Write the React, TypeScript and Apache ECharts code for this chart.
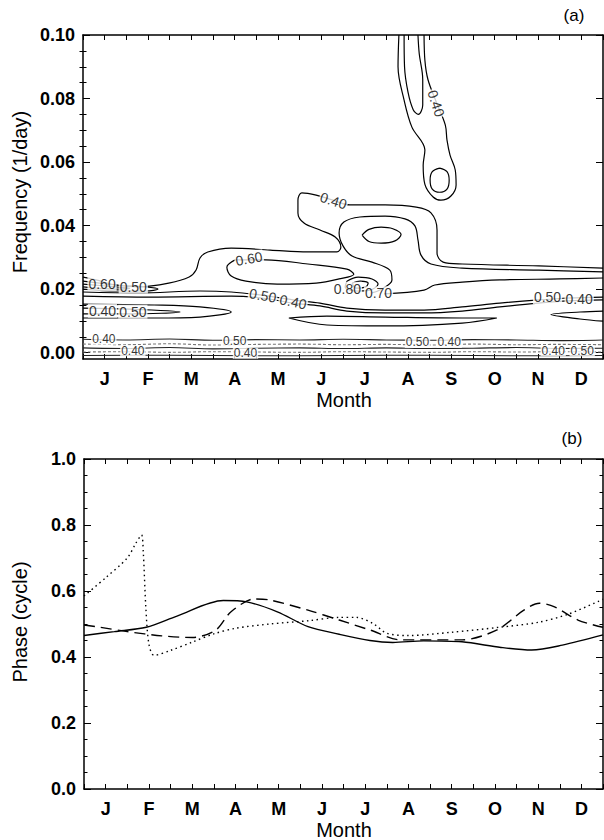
import React, { useEffect, useRef } from "react";
import * as echarts from "echarts";

// ---------- axes / ticks ----------
const months = ["J", "F", "M", "A", "M", "J", "J", "A", "S", "O", "N", "D"];
const monthLabelPos = [0.5, 1.5, 2.5, 3.5, 4.5, 5.5, 6.5, 7.5, 8.5, 9.5, 10.5, 11.5];
const monthTickPos = [0, 0.5, 1, 1.5, 2, 2.5, 3, 3.5, 4, 4.5, 5, 5.5, 6, 6.5, 7, 7.5, 8, 8.5, 9, 9.5, 10, 10.5, 11, 11.5, 12];
const freqTicks = [0, 0.02, 0.04, 0.06, 0.08, 0.1];
const freqMinorTicks = [0.005, 0.01, 0.015, 0.025, 0.03, 0.035, 0.045, 0.05, 0.055, 0.065, 0.07, 0.075, 0.085, 0.09, 0.095];
const phaseTicks = [0, 0.2, 0.4, 0.6, 0.8, 1.0];

// ---------- panel (a): contour lines [month, frequency] ----------
const tongueOuter = [[7.29, 0.1], [7.27, 0.09], [7.41, 0.0795], [7.59, 0.071], [7.89, 0.0638], [7.85, 0.059], [7.89, 0.053], [8.08, 0.049], [8.26, 0.048], [8.49, 0.0493], [8.61, 0.0528], [8.59, 0.0575], [8.47, 0.0622], [8.40, 0.0669], [8.36, 0.0717], [8.15, 0.079], [7.96, 0.086], [7.89, 0.092], [7.87, 0.1]];
const tongueInner = [[7.41, 0.1], [7.42, 0.09], [7.50, 0.082], [7.62, 0.0765], [7.74, 0.075], [7.84, 0.078], [7.84, 0.086], [7.76, 0.094], [7.73, 0.1]];
const bulbInner = [[8.23, 0.0581], [8.40, 0.057], [8.45, 0.0543], [8.40, 0.0515], [8.23, 0.0505], [8.06, 0.0515], [8.01, 0.0543], [8.06, 0.057], [8.23, 0.0581]];
const lobeOuter = [[0, 0.0238], [0.30, 0.0229], [0.76, 0.0213], [1.29, 0.0207], [1.98, 0.0219], [2.45, 0.0238], [2.61, 0.026], [2.70, 0.0298], [2.88, 0.0317], [3.42, 0.0329], [4.32, 0.0323], [5.19, 0.0317], [5.86, 0.0317], [5.95, 0.0332], [5.82, 0.0364], [5.47, 0.0386], [5.10, 0.0408], [4.96, 0.044], [4.96, 0.048], [5.05, 0.0503], [5.38, 0.0496], [5.77, 0.048], [6.16, 0.0465], [6.97, 0.0465], [7.69, 0.0458], [8.03, 0.044], [8.17, 0.0386], [8.17, 0.0314], [8.31, 0.0285], [8.75, 0.0279], [10.52, 0.0273], [12, 0.0266]];
const lobeMiddle = [[12, 0.0254], [10.52, 0.026], [8.75, 0.0266], [8.03, 0.0279], [7.80, 0.0307], [7.73, 0.0355], [7.66, 0.0399], [7.43, 0.0421], [6.97, 0.043], [6.39, 0.0427], [6.02, 0.0411], [5.91, 0.0377], [6.00, 0.0336], [6.21, 0.0304], [6.67, 0.0285], [7.08, 0.026], [7.13, 0.0229], [6.85, 0.0197], [6.67, 0.0188]];
const lobeMiddleLow = [[6.95, 0.0185], [7.87, 0.0197], [8.12, 0.0213], [8.75, 0.0222], [9.62, 0.0229], [11.0, 0.0232], [12, 0.0235]];
const lobeCore = [[6.44, 0.037], [6.6, 0.0388], [6.88, 0.0395], [7.15, 0.039], [7.34, 0.0372], [7.2, 0.0352], [6.88, 0.0345], [6.6, 0.035], [6.44, 0.037]];
const loop060 = [[3.51, 0.0292], [4.22, 0.0292], [5.19, 0.0279], [6.09, 0.0263], [6.25, 0.0247], [5.91, 0.0232], [5.38, 0.0219], [4.48, 0.0216], [3.76, 0.0225], [3.42, 0.0241], [3.32, 0.0269], [3.51, 0.0292]];
const loop070 = [[6.09, 0.0225], [6.35, 0.0238], [6.67, 0.0232], [6.81, 0.0216], [6.62, 0.0197], [6.28, 0.0194], [6.05, 0.0207], [6.09, 0.0225]];
const loop080 = [[6.21, 0.0219], [6.40, 0.0225], [6.58, 0.0219], [6.53, 0.0207], [6.30, 0.0203], [6.21, 0.0219]];
const lensLeft050 = [[0, 0.0225], [0.76, 0.0213], [1.45, 0.0207], [1.73, 0.02], [1.45, 0.0194], [0.76, 0.0194], [0, 0.02]];
const lensLeft060 = [[0, 0.0216], [0.76, 0.0207], [1.08, 0.0203], [0.76, 0.02], [0, 0.0207]];
const band050 = [[0, 0.0191], [1.29, 0.0188], [2.70, 0.0194], [3.42, 0.0191], [4.13, 0.0181], [4.85, 0.0166], [5.47, 0.0156], [6.09, 0.014], [6.97, 0.0134], [7.87, 0.0134], [8.75, 0.0144], [9.62, 0.0156], [10.52, 0.0166], [11.2, 0.0172], [12, 0.0175]];
const band040 = [[0, 0.0178], [1.55, 0.0175], [3.42, 0.0178], [4.13, 0.0172], [4.85, 0.0156], [5.47, 0.0147], [6.09, 0.0131], [6.97, 0.0125], [7.87, 0.0125], [8.75, 0.0131], [9.62, 0.0144], [10.52, 0.0156], [11.2, 0.0163], [12, 0.0166]];
const lensA = [[0, 0.0153], [1.64, 0.015], [2.70, 0.0144], [3.42, 0.0128], [2.70, 0.0112], [1.64, 0.0109], [0, 0.0109]];
const lensAInner = [[0, 0.014], [1.08, 0.0137], [2.24, 0.0128], [1.08, 0.0122], [0, 0.0122]];
const lensB = [[4.75, 0.0109], [5.63, 0.0115], [6.97, 0.0112], [8.75, 0.0109], [9.55, 0.0109], [8.75, 0.0093], [6.97, 0.0084], [5.63, 0.0087], [4.75, 0.0109]];
const lensC = [[12, 0.0131], [11.47, 0.0128], [10.80, 0.012], [11.47, 0.0106], [12, 0.0099]];
const floor1 = [[0, 0.0042], [1, 0.004], [2, 0.0043], [3, 0.0039], [4, 0.0041], [5, 0.004], [6, 0.0042], [7, 0.004], [8, 0.0039], [9, 0.0041], [10, 0.004], [11, 0.0038], [12, 0.004]];
const floor2 = [[0, 0.0027], [1, 0.0025], [2, 0.0028], [3, 0.0024], [4, 0.0026], [5, 0.0027], [6, 0.0025], [7, 0.0026], [8, 0.0024], [9, 0.0027], [10, 0.0025], [11, 0.0026], [12, 0.0025]];
const floor3 = [[0, 0.0015], [1, 0.0013], [2, 0.0016], [3, 0.0012], [4, 0.0014], [5, 0.0015], [6, 0.0013], [7, 0.0015], [8, 0.0013], [9, 0.0014], [10, 0.0016], [11, 0.0013], [12, 0.0014]];
const floor4 = [[0, 0.0002], [1, 0.0003], [2, 0.0001], [3, 0.0003], [4, 0.0002], [5, 0.0001], [6, 0.0003], [7, 0.0002], [8, 0.0001], [9, 0.0003], [10, 0.0002], [11, 0.0003], [12, 0.0002]];
const floor5 = [[0, -0.0009], [2, -0.0008], [4, -0.001], [6, -0.0009], [8, -0.0008], [10, -0.001], [12, -0.0009]];

const contourLines = [tongueOuter, tongueInner, bulbInner, lobeOuter, lobeMiddle, lobeMiddleLow, lobeCore, loop060, loop070, loop080, lensLeft050, lensLeft060, band050, band040, lensA, lensAInner, lensB, lensC];
const floorLines = [floor1, floor2, floor3, floor4, floor5];

// contour labels on the contours: text + position [month, frequency]
const labelTexts = ["0.40", "0.40", "0.60", "0.60", "0.50", "0.50", "0.40", "0.80", "0.70", "0.50", "0.40", "0.40", "0.50"];
const labelPoints = [[8.15, 0.0785], [5.78, 0.0478], [3.83, 0.0296], [0.44, 0.0216], [1.16, 0.0208], [4.15, 0.018], [4.85, 0.016], [6.1, 0.0201], [6.82, 0.0187], [10.72, 0.0174], [11.45, 0.0169], [0.45, 0.0132], [1.15, 0.0129]];
const labelRotations = [-72, -18, 10, 0, 0, -10, -12, 0, 0, 0, 0, 0, 0];
// labels inside the low-frequency band
const floorLabelTexts = ["0.40", "0.40", "0.50", "0.40", "0.50", "0.40", "0.40", "0.50"];
const floorLabelPoints = [[0.48, 0.0042], [1.15, 0.0006], [3.5, 0.0037], [3.75, -0.0002], [7.72, 0.0032], [8.45, 0.0032], [10.85, 0.0006], [11.52, 0.0006]];

// ---------- panel (b): phase [month, cycle] ----------
const phaseSolid = [[0, 0.465], [0.7, 0.477], [1.44, 0.49], [2.15, 0.524], [3.22, 0.571], [3.76, 0.567], [4.47, 0.537], [5.18, 0.492], [5.9, 0.469], [6.61, 0.45], [7.14, 0.444], [7.85, 0.449], [8.74, 0.446], [9.64, 0.429], [10.35, 0.421], [11.06, 0.436], [12, 0.467]];
const phaseDashed = [[0, 0.497], [0.37, 0.49], [1.0, 0.477], [1.8, 0.464], [2.51, 0.459], [3.05, 0.482], [3.4, 0.537], [3.94, 0.576], [4.29, 0.573], [5.18, 0.542], [5.9, 0.512], [6.61, 0.482], [7.32, 0.452], [8.74, 0.452], [9.55, 0.482], [10.17, 0.542], [10.53, 0.563], [10.88, 0.552], [11.42, 0.512], [12, 0.49]];
const phaseDotted = [[0, 0.585], [0.5, 0.64], [1.0, 0.70], [1.2, 0.745], [1.33, 0.77], [1.37, 0.72], [1.43, 0.55], [1.5, 0.44], [1.62, 0.405], [2.0, 0.42], [2.5, 0.445], [3.0, 0.47], [3.5, 0.487], [4.3, 0.50], [5.2, 0.51], [5.9, 0.52], [6.3, 0.52], [6.7, 0.50], [7.0, 0.472], [7.5, 0.465], [8.5, 0.475], [9.6, 0.49], [10.5, 0.505], [11.2, 0.53], [12, 0.575]];

const FONT = '"Liberation Sans", Arial, Helvetica, sans-serif';

export default function App() {
  const ref = useRef<HTMLDivElement>(null);
  useEffect(() => {
    if (!ref.current) return;
    const chart = echarts.init(ref.current, undefined, { renderer: "svg" });
    const black = "#000";
    const axisLine = { show: true, onZero: false, lineStyle: { color: black, width: 1.5 } };
    const tickFont = { color: black, fontSize: 18, fontWeight: "bold", fontFamily: FONT };

    const xAxisFor = (grid: number, pos: string, labels: boolean) => ({
      gridIndex: grid, type: "value", min: 0, max: 12, position: pos,
      axisLine,
      axisTick: { show: true, inside: true, length: 5, customValues: monthTickPos, lineStyle: { color: black, width: 1 } },
      axisLabel: labels
        ? { show: true, customValues: monthLabelPos, formatter: (v: number) => months[Math.floor(v)], margin: 11, ...tickFont }
        : { show: false },
      splitLine: { show: false },
    });

    const contourSeries = contourLines.map((pts) => ({
      type: "line", xAxisIndex: 0, yAxisIndex: 0, data: pts, showSymbol: false, symbol: "none",
      smooth: 0.35, silent: true, z: 2,
      lineStyle: { color: black, width: 1.2 },
    }));
    const floorSeries = floorLines.map((pts, i) => ({
      type: "line", xAxisIndex: 0, yAxisIndex: 0, data: pts, showSymbol: false, symbol: "none",
      smooth: 0.3, silent: true, z: 2,
      lineStyle: { color: i % 2 === 0 ? "#222" : "#777", width: 1.1, type: i % 2 === 0 ? "solid" : [3, 2] },
    }));
    const labelSeries = {
      type: "scatter", xAxisIndex: 0, yAxisIndex: 0, symbolSize: 1, silent: true, z: 5,
      itemStyle: { color: "rgba(0,0,0,0)" },
      data: labelPoints.map((p, i) => ({ value: p, name: labelTexts[i], label: { rotate: labelRotations[i] } })),
      label: {
        show: true, position: "inside", formatter: "{b}", color: black, fontSize: 14, fontFamily: FONT,
        backgroundColor: "#fff", padding: [0, 1],
      },
    };
    const floorLabelSeries = {
      type: "scatter", xAxisIndex: 0, yAxisIndex: 0, symbolSize: 1, silent: true, z: 5,
      itemStyle: { color: "rgba(0,0,0,0)" },
      data: floorLabelPoints.map((p, i) => ({ value: p, name: floorLabelTexts[i] })),
      label: {
        show: true, position: "inside", formatter: "{b}", color: black, fontSize: 12, fontFamily: FONT,
        backgroundColor: "#fff", padding: [0, 1], lineHeight: 11,
      },
    };

    const phaseLine = (pts: number[][], type: any) => ({
      type: "line", xAxisIndex: 2, yAxisIndex: 4, data: pts, showSymbol: false, symbol: "none",
      smooth: 0.3, silent: true,
      lineStyle: { color: black, width: 1.4, type },
    });

    const textStyle = (text: string, size: number) => ({ text, fill: black, font: `${size}px ${FONT}`, textAlign: "center", textVerticalAlign: "middle" });

    chart.setOption({
      animation: false,
      backgroundColor: "#fff",
      grid: [
        { left: 83, top: 35, width: 520, height: 324 },
        { left: 84, top: 459, width: 519, height: 330 },
      ],
      xAxis: [xAxisFor(0, "bottom", true), xAxisFor(0, "top", false), xAxisFor(1, "bottom", true), xAxisFor(1, "top", false)],
      yAxis: [
        {
          gridIndex: 0, type: "value", min: -0.002, max: 0.1, position: "left", axisLine,
          axisTick: { show: true, inside: true, length: 7, customValues: freqTicks, lineStyle: { color: black } },
          axisLabel: { show: true, customValues: freqTicks, formatter: (v: number) => v.toFixed(2), margin: 8, ...tickFont },
          splitLine: { show: false },
        },
        {
          gridIndex: 0, type: "value", min: -0.002, max: 0.1, position: "left", axisLine: { show: false },
          axisTick: { show: true, inside: true, length: 3.5, customValues: freqMinorTicks, lineStyle: { color: black } },
          axisLabel: { show: false }, splitLine: { show: false },
        },
        {
          gridIndex: 0, type: "value", min: -0.002, max: 0.1, position: "right", axisLine,
          axisTick: { show: true, inside: true, length: 7, customValues: freqTicks, lineStyle: { color: black } },
          axisLabel: { show: false }, splitLine: { show: false },
        },
        {
          gridIndex: 0, type: "value", min: -0.002, max: 0.1, position: "right", axisLine: { show: false },
          axisTick: { show: true, inside: true, length: 3.5, customValues: freqMinorTicks, lineStyle: { color: black } },
          axisLabel: { show: false }, splitLine: { show: false },
        },
        {
          gridIndex: 1, type: "value", min: 0, max: 1, interval: 0.2, position: "left", axisLine,
          axisTick: { show: true, inside: true, length: 7, lineStyle: { color: black } },
          minorTick: { show: true, splitNumber: 4, length: 3.5, lineStyle: { color: black } },
          axisLabel: { show: true, customValues: phaseTicks, formatter: (v: number) => v.toFixed(1), margin: 8, ...tickFont },
          splitLine: { show: false },
        },
        {
          gridIndex: 1, type: "value", min: 0, max: 1, interval: 0.2, position: "right", axisLine,
          axisTick: { show: true, inside: true, length: 7, lineStyle: { color: black } },
          minorTick: { show: true, splitNumber: 4, length: 3.5, lineStyle: { color: black } },
          axisLabel: { show: false }, splitLine: { show: false },
        },
      ],
      series: [
        ...contourSeries,
        ...floorSeries,
        labelSeries,
        floorLabelSeries,
        phaseLine(phaseSolid, "solid"),
        phaseLine(phaseDashed, [11, 6]),
        phaseLine(phaseDotted, [1.5, 3.5]),
      ],
      graphic: [
        { type: "text", x: 574, y: 15, style: textStyle("(a)", 17) },
        { type: "text", x: 20, y: 192, rotation: Math.PI / 2, style: textStyle("Frequency (1/day)", 20) },
        { type: "text", x: 344, y: 400, style: textStyle("Month", 20) },
        { type: "text", x: 572, y: 438, style: textStyle("(b)", 17) },
        { type: "text", x: 20, y: 622, rotation: Math.PI / 2, style: textStyle("Phase (cycle)", 20) },
        { type: "text", x: 344, y: 830, style: textStyle("Month", 20) },
      ],
    });
    return () => chart.dispose();
  }, []);
  return <div ref={ref} style={{ position: "absolute", left: 0, top: 0, width: 604, height: 840, background: "#fff" }} />;
}
